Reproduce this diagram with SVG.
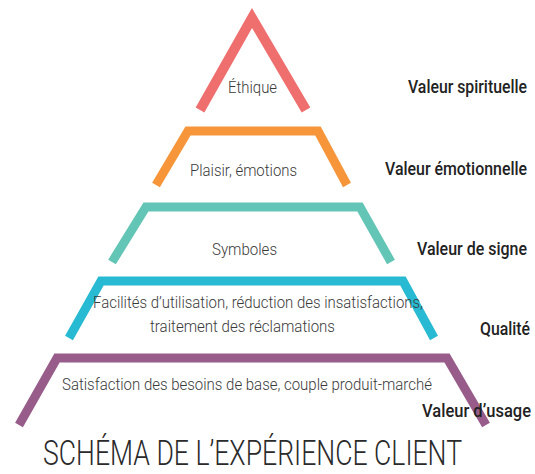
<svg xmlns="http://www.w3.org/2000/svg" width="535" height="474" viewBox="0 0 535 474">
<style>
.lvl{fill:none;stroke-linejoin:miter;stroke-miterlimit:10;stroke-linecap:butt}
.body{font-family:Roboto,"Liberation Sans",sans-serif;font-weight:300;font-size:17px;fill:#3a3a3a}
.lab{font-family:Roboto,"Liberation Sans",sans-serif;font-weight:500;font-size:18px;fill:#222}
.title{font-family:Roboto,"Liberation Sans",sans-serif;font-weight:300;font-size:35px;fill:#2a2a2a}
</style>
<rect width="535" height="474" fill="#fff"/>
<g id="connectors"></g>
<g id="level-ethique">
<polyline class="lvl" points="200,110 252,18 306,110" stroke="#EF6E6E" stroke-width="10"/>
<text class="body" transform="translate(228,93) scale(0.82,1)" textLength="59.8" lengthAdjust="spacingAndGlyphs">Éthique</text>
<text class="lab" transform="translate(408,93) scale(0.82,1)" textLength="145.1" lengthAdjust="spacingAndGlyphs">Valeur spirituelle</text>
</g>
<g id="level-plaisir">
<polyline class="lvl" points="156,185 188,131 318,131 347,185" stroke="#F7953A" stroke-width="9"/>
<text class="body" transform="translate(190,176) scale(0.82,1)" textLength="130.5" lengthAdjust="spacingAndGlyphs">Plaisir, émotions</text>
<text class="lab" transform="translate(385,175) scale(0.82,1)" textLength="173.2" lengthAdjust="spacingAndGlyphs">Valeur émotionnelle</text>
</g>
<g id="level-symboles">
<polyline class="lvl" points="112,262 146,207 360,207 391,262" stroke="#63C5B6" stroke-width="9"/>
<text class="body" transform="translate(212,255) scale(0.82,1)" textLength="79.3" lengthAdjust="spacingAndGlyphs">Symboles</text>
<text class="lab" transform="translate(417,255) scale(0.82,1)" textLength="134.1" lengthAdjust="spacingAndGlyphs">Valeur de signe</text>
</g>
<g id="level-qualite">
<polyline class="lvl" points="69,338 101,281 403,281 434,338" stroke="#27BAD2" stroke-width="9"/>
<text class="body" transform="translate(93,308) scale(0.82,1)" textLength="402.4" lengthAdjust="spacingAndGlyphs">Facilités d’utilisation, réduction des insatisfactions,</text>
<text class="body" transform="translate(150,332) scale(0.82,1)" textLength="225.6" lengthAdjust="spacingAndGlyphs">traitement des réclamations</text>
<text class="lab" transform="translate(480,335) scale(0.82,1)" textLength="61" lengthAdjust="spacingAndGlyphs">Qualité</text>
</g>
<g id="level-usage">
<polyline class="lvl" points="19,425 57,358 447,358 486,425" stroke="#985C8B" stroke-width="9"/>
<text class="body" transform="translate(62,390) scale(0.82,1)" textLength="451.2" lengthAdjust="spacingAndGlyphs">Satisfaction des besoins de base, couple produit-marché</text>
<text class="lab" transform="translate(422,417) scale(0.82,1)" textLength="132.9" lengthAdjust="spacingAndGlyphs">Valeur d’usage</text>
</g>
<g id="title">
<text class="title" transform="translate(43,465) scale(0.82,1)" textLength="511" lengthAdjust="spacingAndGlyphs">SCHÉMA DE L’EXPÉRIENCE CLIENT</text>
</g>
</svg>
